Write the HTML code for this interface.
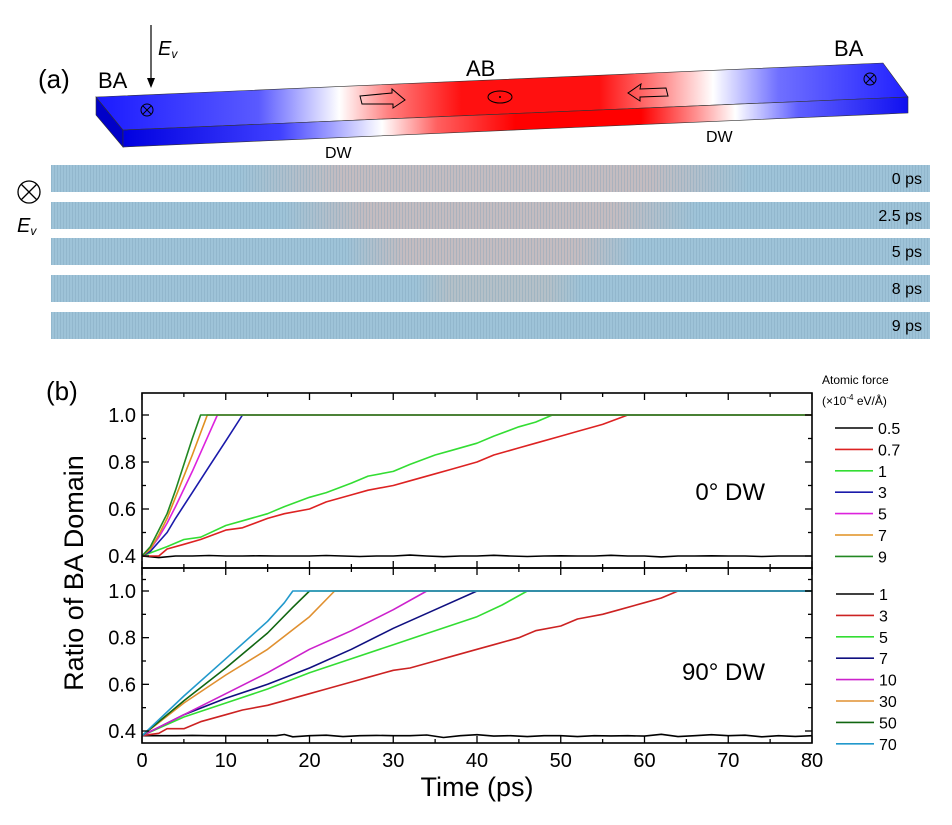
<!DOCTYPE html>
<html><head><meta charset="utf-8"><style>
body{margin:0;background:#fff;}
svg{display:block;font-family:"Liberation Sans",sans-serif;}
</style></head><body>
<svg id="fig" width="952" height="825" viewBox="0 0 952 825">
<defs>
<linearGradient id="slabg" x1="0" x2="1" y1="0" y2="0">
<stop offset="0" stop-color="#1a1aff"/><stop offset="0.2" stop-color="#5a5aff"/><stop offset="0.3" stop-color="#ffffff"/>
<stop offset="0.36" stop-color="#ff8080"/><stop offset="0.45" stop-color="#ff1010"/><stop offset="0.62" stop-color="#ff1010"/>
<stop offset="0.7" stop-color="#ff9090"/><stop offset="0.76" stop-color="#ffffff"/><stop offset="0.84" stop-color="#7070ff"/><stop offset="1" stop-color="#2020ff"/>
</linearGradient>
<linearGradient id="slabf" x1="0" x2="1" y1="0" y2="0">
<stop offset="0" stop-color="#0000e0"/><stop offset="0.2" stop-color="#4040ff"/><stop offset="0.33" stop-color="#ffffff"/>
<stop offset="0.4" stop-color="#ff6060"/><stop offset="0.5" stop-color="#ff0000"/><stop offset="0.66" stop-color="#ff0000"/>
<stop offset="0.73" stop-color="#ff9090"/><stop offset="0.78" stop-color="#ffffff"/><stop offset="0.86" stop-color="#6060ff"/><stop offset="1" stop-color="#1010f0"/>
</linearGradient>
<pattern id="hatch" width="3" height="3" patternUnits="userSpaceOnUse"><rect width="3" height="3" fill="none"/><rect width="1" height="3" fill="#7aa0b8" opacity="0.35"/></pattern>
</defs>

<!-- Panel (a) -->
<text x="38" y="88" font-size="26">(a)</text>
<g>
<polygon points="96,97 123,130 123,147 96,115" fill="#0000c8" stroke="#333" stroke-width="0.6"/>
<polygon points="96,97 883,63 908,97 123,130" fill="url(#slabg)" stroke="#333" stroke-width="0.6"/>
<polygon points="123,130 908,97 908,113 123,147" fill="url(#slabf)" stroke="#333" stroke-width="0.6"/>
<circle cx="147" cy="110" r="6" fill="none" stroke="#000"/><path d="M143,106 L151,114 M151,106 L143,114" stroke="#000"/>
<ellipse cx="500" cy="97" rx="12" ry="6" fill="none" stroke="#000"/><circle cx="500" cy="97" r="1" fill="#000"/>
<circle cx="870" cy="79" r="6" fill="none" stroke="#000"/><path d="M866,75 L874,83 M874,75 L866,83" stroke="#000"/>
<path d="M360,96 L392,93 L392,89 L405,100 L393,108 L393,104 L362,104 Z" fill="none" stroke="#000"/>
<path d="M666,88 L640,89 L641,84 L628,93 L640,101 L640,97 L668,96 Z" fill="none" stroke="#000"/>
</g>
<text x="98" y="88" font-size="22">BA</text>
<text x="466" y="76" font-size="22">AB</text>
<text x="834" y="56" font-size="22">BA</text>
<text x="325" y="158" font-size="16">DW</text>
<text x="706" y="142" font-size="16">DW</text>
<line x1="151" y1="25" x2="151" y2="84" stroke="#000" stroke-width="1.2"/>
<polygon points="147,78 155,78 151,88" fill="#000"/>
<text x="158" y="55" font-size="20" font-style="italic">E<tspan font-size="12" dy="3">v</tspan></text>
<circle cx="29" cy="192" r="11" fill="none" stroke="#000" stroke-width="1.3"/>
<path d="M21,184 L37,200 M37,184 L21,200" stroke="#000" stroke-width="1.3"/>
<text x="17" y="232" font-size="20" font-style="italic">E<tspan font-size="12" dy="3">v</tspan></text>
<g id="strips"></g>

<!-- Panel (b) -->
<text x="46" y="400" font-size="26">(b)</text>
<g id="plot"></g>
<text x="83" y="573" font-size="27" text-anchor="middle" transform="rotate(-90 83 573)">Ratio of BA Domain</text>
<text x="477" y="796" font-size="27" text-anchor="middle">Time (ps)</text>
<text x="765" y="500" font-size="24" text-anchor="end">0° DW</text>
<text x="765" y="680" font-size="24" text-anchor="end">90° DW</text>
<text x="822" y="384" font-size="12">Atomic force</text>
<text x="822" y="405" font-size="12">(×10<tspan font-size="8" dy="-5">-4</tspan><tspan dy="5"> eV/Å)</tspan></text>
<g id="legend"></g>
</svg>
<script>
const NS='http://www.w3.org/2000/svg';
function mk(tag,attrs,parent){const e=document.createElementNS(NS,tag);for(const k in attrs)e.setAttribute(k,attrs[k]);parent.appendChild(e);return e;}

// strips
const stripTimes=['0 ps','2.5 ps','5 ps','8 ps','9 ps'];
const stripABStart=[0.25,0.30,0.37,0.45,0.0];
const stripABEnd=[0.76,0.70,0.63,0.57,0.0];
const stripsG=document.getElementById('strips');
const stripY=[165,202,238,275,312];
stripTimes.forEach((t,i)=>{
  const g=mk('g',{},stripsG);
  
  
  const x0=51,w=879,y=stripY[i];
  mk('rect',{x:x0,y:y,width:w,height:27,fill:'#9ec3d8'},g);
  if(stripABEnd[i]>stripABStart[i]){
    const a=x0+w*stripABStart[i],b=x0+w*stripABEnd[i];
    const gid='sg'+i;
    const lg=mk('linearGradient',{id:gid,x1:0,x2:1,y1:0,y2:0},document.querySelector('defs'));
    mk('stop',{offset:0,'stop-color':'#9ec3d8'},lg);
    mk('stop',{offset:0.2,'stop-color':i===3?'#b4c0c8':'#c4bcc0'},lg);
    mk('stop',{offset:0.8,'stop-color':i===3?'#b4c0c8':'#c4bcc0'},lg);
    mk('stop',{offset:1,'stop-color':'#9ec3d8'},lg);
    mk('rect',{x:a-30,y:y,width:b-a+60,height:27,fill:'url(#'+gid+')'},g);
  }
  mk('rect',{x:x0,y:y,width:w,height:27,fill:'url(#hatch)'},g);
  const tx=mk('text',{x:922,y:y+19,'font-size':16,'text-anchor':'end'},g);
  tx.textContent=t;
});

// chart data
const topNames=['0.5','0.7','1','3','5','7','9'];
const topColors=['#000000','#dd2222','#33dd33','#1a1aaa','#dd22dd','#e09020','#228822'];
const topX0_5=[0,2,4,6,8,10,12,14,16,18,20,22,24,26,28,30,32,34,36,38,40,42,44,46,48,50,52,54,56,58,60,62,64,66,68,70,72,74,76,78,80];
const topY0_5=[0.40,0.393,0.40,0.40,0.402,0.40,0.40,0.401,0.40,0.40,0.40,0.402,0.40,0.398,0.40,0.40,0.404,0.40,0.397,0.40,0.40,0.403,0.40,0.398,0.40,0.401,0.40,0.40,0.403,0.40,0.40,0.396,0.40,0.40,0.401,0.40,0.40,0.398,0.40,0.40,0.40];
const topX0_7=[0,2,3,5,7,10,12,15,17,20,22,25,27,30,32,35,37,40,42,45,47,50,52,55,58,80];
const topY0_7=[0.40,0.40,0.43,0.45,0.47,0.51,0.52,0.56,0.58,0.60,0.63,0.66,0.68,0.70,0.72,0.75,0.77,0.80,0.83,0.86,0.88,0.91,0.93,0.96,1.0,1.0];
const topX1=[0,3,5,7,10,12,15,17,20,22,25,27,30,32,35,37,40,42,45,47,49,80];
const topY1=[0.40,0.44,0.47,0.48,0.53,0.55,0.58,0.61,0.65,0.67,0.71,0.74,0.76,0.79,0.83,0.85,0.88,0.91,0.95,0.97,1.0,1.0];
const topX3=[0,1,2,3,4,6,8,10,12,80];
const topY3=[0.40,0.42,0.46,0.50,0.56,0.67,0.78,0.89,1.0,1.0];
const topX5=[0,1,2,3,4,6,8,9,80];
const topY5=[0.40,0.43,0.48,0.54,0.61,0.76,0.92,1.0,1.0];
const topX7=[0,1,2,3,4,6,7.8,80];
const topY7=[0.40,0.43,0.49,0.56,0.65,0.83,1.0,1.0];
const topX9=[0,1,2,3,4,6,7,80];
const topY9=[0.40,0.44,0.51,0.58,0.68,0.90,1.0,1.0];

const botNames=['1','3','5','7','10','30','50','70'];
const botColors=['#000000','#cc2222','#33dd33','#101080','#cc22cc','#e09030','#116611','#2299cc'];
const botX1=[0,2,4,6,8,10,12,14,16,17,18,20,22,24,26,28,30,32,34,36,38,40,42,44,46,48,50,52,54,56,58,60,62,64,66,68,70,72,74,76,78,80];
const botY1=[0.38,0.38,0.38,0.381,0.38,0.38,0.38,0.38,0.38,0.385,0.375,0.38,0.382,0.376,0.38,0.381,0.38,0.38,0.383,0.372,0.38,0.384,0.378,0.38,0.376,0.38,0.38,0.376,0.38,0.379,0.38,0.378,0.386,0.376,0.38,0.384,0.38,0.382,0.375,0.38,0.377,0.38];
const botX3=[0,2,3,5,7,10,12,15,17,20,22,25,27,30,32,35,37,40,42,45,47,50,52,55,57,60,62,64,80];
const botY3=[0.38,0.39,0.41,0.41,0.44,0.47,0.49,0.51,0.53,0.56,0.58,0.61,0.63,0.66,0.67,0.70,0.72,0.75,0.77,0.80,0.83,0.85,0.88,0.90,0.92,0.95,0.97,1.0,1.0];
const botX5=[0,5,10,15,20,25,30,35,40,43,46,80];
const botY5=[0.38,0.46,0.52,0.58,0.65,0.71,0.77,0.83,0.89,0.94,1.0,1.0];
const botX7=[0,5,10,15,20,25,30,35,40,80];
const botY7=[0.38,0.47,0.54,0.60,0.67,0.75,0.84,0.92,1.0,1.0];
const botX10=[0,5,10,15,20,25,30,34,80];
const botY10=[0.38,0.47,0.56,0.65,0.75,0.83,0.92,1.0,1.0];
const botX30=[0,5,10,15,20,23,80];
const botY30=[0.38,0.52,0.64,0.75,0.89,1.0,1.0];
const botX50=[0,5,10,15,18,20,80];
const botY50=[0.38,0.53,0.67,0.82,0.93,1.0,1.0];
const botX70=[0,5,10,15,17,18,80];
const botY70=[0.38,0.55,0.71,0.87,0.95,1.0,1.0];

const xTicks=[0,10,20,30,40,50,60,70,80];
const yTicks=[0.4,0.6,0.8,1.0];

const X0=142,X1=812;
function xs(v){return X0+(v/80)*(X1-X0);}
function ysTop(v){return 556-(v-0.4)/0.6*141;}
function ysBot(v){return 731-(v-0.4)/0.6*140;}

const plot=document.getElementById('plot');
function panel(top,bot,ys,xList,yList,colors,names,key){
  const g=mk('g',{},plot);
  
  
  xList.forEach((xa,i)=>{
    const d=xa.map((x,j)=>(j?'L':'M')+xs(x).toFixed(1)+','+ys(yList[i][j]).toFixed(1)).join(' ');
    const p=mk('path',{d:d,fill:'none',stroke:colors[i],'stroke-width':1.6,'stroke-linejoin':'round'},g);
    
    
  });
  const f=mk('rect',{x:X0,y:top,width:X1-X0,height:bot-top,fill:'none',stroke:'#000','stroke-width':1.6},g);
  
  
  for(let v=0;v<=80;v+=5){
    const L=(v%10===0)?7:4,x=xs(v);
    mk('line',{x1:x,y1:bot,x2:x,y2:bot-L,stroke:'#000','stroke-width':1.3},g);
    mk('line',{x1:x,y1:top,x2:x,y2:top+L,stroke:'#000','stroke-width':1.3},g);
  }
  for(let k=3;k<=10;k++){
    const v=k/10,y=ys(v),L=(k%2===0)?7:4;
    mk('line',{x1:X0,y1:y,x2:X0+L,y2:y,stroke:'#000','stroke-width':1.3},g);
    mk('line',{x1:X1,y1:y,x2:X1-L,y2:y,stroke:'#000','stroke-width':1.3},g);
  }
  yTicks.forEach(v=>{
    const t=mk('text',{x:X0-6,y:ys(v)+7,'font-size':20,'text-anchor':'end'},g);
    t.textContent=v.toFixed(1);
    
    
  });
}
panel(393,568,ysTop,[topX0_5,topX0_7,topX1,topX3,topX5,topX7,topX9],[topY0_5,topY0_7,topY1,topY3,topY5,topY7,topY9],topColors,topNames,'top');
panel(568,743,ysBot,[botX1,botX3,botX5,botX7,botX10,botX30,botX50,botX70],[botY1,botY3,botY5,botY7,botY10,botY30,botY50,botY70],botColors,botNames,'bottom');
xTicks.forEach(v=>{
  const t=mk('text',{x:xs(v),y:767,'font-size':20,'text-anchor':'middle'},plot);
  t.textContent=v;
  
  
});

const lg=document.getElementById('legend');
function legendEntries(names,colors,y0,x0,key){
  names.forEach((n,i)=>{
    const y=y0+i*21.4;
    const g=mk('g',{},lg);
    
    
    mk('line',{x1:x0,y1:y,x2:x0+38,y2:y,stroke:colors[i],'stroke-width':1.6},g);
    const t=mk('text',{x:x0+43,y:y+6,'font-size':16},g);
    t.textContent=n;
  });
}
legendEntries(topNames,topColors,428,835,'top');
legendEntries(botNames,botColors,594,836,'bottom');
</script>
</body></html>
